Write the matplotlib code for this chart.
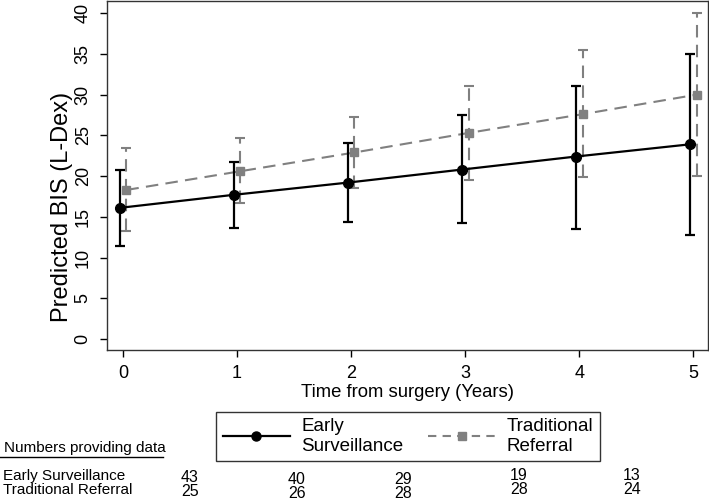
import matplotlib
matplotlib.use("Agg")
import matplotlib.pyplot as plt
from matplotlib.lines import Line2D

plt.rcParams['font.family'] = ['Liberation Sans', 'DejaVu Sans']

# predicted BIS with 95% CI
times = [0, 1, 2, 3, 4, 5]
es_mean = [16.1, 17.7, 19.2, 20.8, 22.4, 23.9]
es_lo = [11.4, 13.6, 14.4, 14.2, 13.5, 12.8]
es_hi = [20.8, 21.7, 24.1, 27.5, 31.1, 35.0]
tr_mean = [18.3, 20.6, 22.9, 25.3, 27.6, 30.0]
tr_lo = [13.2, 16.7, 18.6, 19.5, 19.9, 20.0]
tr_hi = [23.4, 24.7, 27.3, 31.1, 35.5, 40.0]

# numbers providing data
es_n = [43, 40, 29, 19, 13]
tr_n = [25, 26, 28, 28, 24]

W, H = 709, 504
GREY = "#808080"
offset = 0.03
DASH = (0, (6, 3.5))

fig = plt.figure(figsize=(W / 100, H / 100), dpi=100)
ax = fig.add_axes([107 / W, 1 - 350 / H, 601 / W, 349 / H])

x_es = [t - offset for t in times]
x_tr = [t + offset for t in times]

es_err = [[m - l for m, l in zip(es_mean, es_lo)], [h - m for m, h in zip(es_mean, es_hi)]]
tr_err = [[m - l for m, l in zip(tr_mean, tr_lo)], [h - m for m, h in zip(tr_mean, tr_hi)]]

tr = ax.errorbar(x_tr, tr_mean, yerr=tr_err, color=GREY, ecolor=GREY,
                 linestyle=DASH, linewidth=1.5, elinewidth=1.5,
                 marker="s", markersize=5.5, capsize=3.5, capthick=1.5, zorder=2)
for lc in tr[2]:
    lc.set_linestyle(DASH)

es = ax.errorbar(x_es, es_mean, yerr=es_err, color="black", ecolor="black",
                 linestyle="-", linewidth=1.6, elinewidth=1.6,
                 marker="o", markersize=7, capsize=3.5, capthick=1.6, zorder=3)

ax.set_xlim(-0.14, 5.13)
ax.set_ylim(-1.35, 41.5)
ax.set_xticks(times)
ax.set_yticks(range(0, 41, 5))
ax.tick_params(axis="both", direction="out", length=5, width=1, labelsize=13,
               colors="black")
ax.tick_params(axis="x", pad=5.5)
ax.tick_params(axis="y", pad=6)
for lab in ax.get_yticklabels():
    lab.set_rotation(90)
    lab.set_va("center")
for sp in ax.spines.values():
    sp.set_linewidth(1)
    sp.set_color("#333333")

ax.set_xlabel("Time from surgery (Years)", fontsize=13.3, labelpad=2)
ax.set_ylabel("Predicted BIS (L-Dex)", fontsize=17, va="center")
ax.yaxis.set_label_coords((62 - 107) / 601, (350 - 207) / 349)

handles = [
    Line2D([], [], color="black", linewidth=1.6, marker="o", markersize=6.5),
    Line2D([], [], color=GREY, linewidth=1.5, linestyle=(0, (4, 3)), marker="s", markersize=6),
]
leg = fig.legend(handles, ["Early\nSurveillance", "Traditional\nReferral"],
                 loc="center", bbox_to_anchor=(408 / W, 1 - 436.5 / H), ncol=2,
                 fontsize=13.5, frameon=True, fancybox=False, handlelength=3.6,
                 handletextpad=0.6, columnspacing=1.3, borderpad=0.35,
                 labelspacing=0.2, numpoints=1)
leg.get_frame().set_edgecolor("black")
leg.get_frame().set_linewidth(1)

# numbers-at-risk table
narrow = ['Liberation Sans Narrow', 'Liberation Sans', 'DejaVu Sans']
fig.text(4 / W, 1 - 452 / H, "Numbers providing data", fontsize=11, family=narrow,
         va="baseline", ha="left")
fig.add_artist(Line2D([0, 163 / W], [1 - 457 / H, 1 - 457 / H], color="black",
                      linewidth=1, transform=fig.transFigure))
fig.text(3 / W, 1 - 476 / H, "Early Surveillance", fontsize=11, family=narrow,
         va="center", ha="left")
fig.text(3 / W, 1 - 490 / H, "Traditional Referral", fontsize=11, family=narrow,
         va="center", ha="left")

col_x = [190, 297, 403, 519, 632]
col_dy = [1, 3, 3, 0, -1]
for cx, dy, a, b in zip(col_x, col_dy, es_n, tr_n):
    fig.text(cx / W, 1 - (476 + dy) / H, str(a), fontsize=11.5, family=narrow,
             va="center", ha="center")
    fig.text(cx / W, 1 - (490 + dy) / H, str(b), fontsize=11.5, family=narrow,
             va="center", ha="center")

fig.savefig("out.png", dpi=100)
